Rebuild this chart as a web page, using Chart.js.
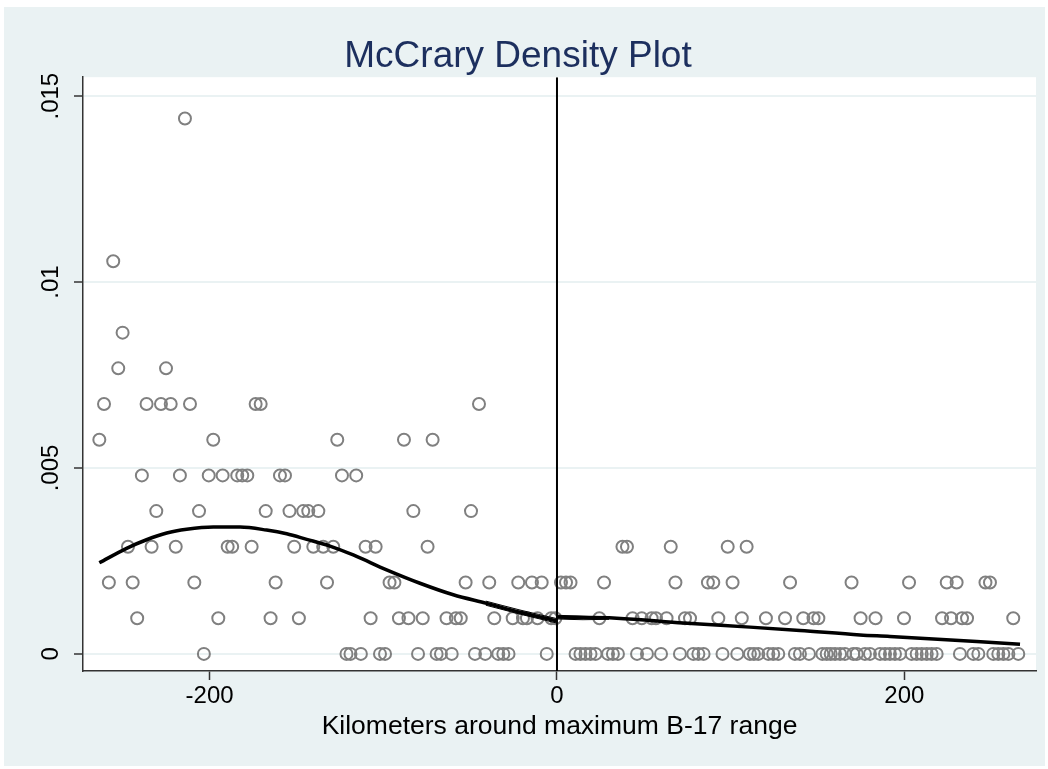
<!DOCTYPE html>
<html>
<head>
<meta charset="utf-8">
<script src="https://cdn.jsdelivr.net/npm/chart.js@4.4.1/dist/chart.umd.min.js"></script>
<style>
  html, body { margin: 0; padding: 0; background: #ffffff; }
  canvas { display: block; }
</style>
</head>
<body>
<canvas id="myChart" width="1048" height="769"></canvas>
<script>
// axis ticks
var xTicks = [-200, 0, 200];
var yTicks = [0, 0.005, 0.01, 0.015];
var yTickLabels = ['0', '.005', '.01', '.015'];

// bin midpoints (km), grouped by the density level they sit at
var binsD0 = [-203.3, -121.2, -118.9, -112.9, -101.9, -99.0, -80.0, -69.3, -66.8, -60.6, -47.2, -41.3, -33.8, -30.9, -27.9, -5.9,
  10.7, 13.5, 16.4, 19.3, 22.2, 29.4, 32.2, 35.1, 46.1, 51.8, 59.9, 70.8, 78.5, 81.4, 84.4, 95.3, 103.8, 111.1, 113.4, 115.9,
  121.7, 124.5, 127.4, 137.0, 139.9, 145.1, 152.8, 155.3, 157.6, 160.1, 163.0, 165.8, 170.6, 172.6, 177.3, 180.2, 186.0, 188.9,
  191.7, 194.6, 197.5, 204.2, 207.1, 210.0, 212.9, 215.7, 218.6, 232.0, 239.7, 242.6, 251.2, 254.1, 257.0, 259.9, 265.6];
var binsD1 = [-241.7, -195.0, -164.9, -148.6, -107.3, -91.0, -85.5, -77.3, -63.6, -58.2, -55.4, -36.1, -25.5, -19.6, -17.3, -11.2,
  -3.3, -0.9, 24.4, 43.5, 48.8, 54.5, 57.0, 63.1, 73.7, 76.6, 92.9, 106.4, 120.3, 131.3, 141.8, 147.7, 150.5, 174.8, 183.4,
  199.8, 221.7, 226.9, 233.2, 236.1, 262.7];
var binsD2 = [-258.0, -244.3, -208.8, -162.0, -132.4, -96.4, -93.6, -52.6, -39.0, -22.3, -14.4, -8.8, 2.3, 5.2, 7.8, 27.1,
  68.2, 86.9, 90.0, 101.1, 134.2, 169.6, 202.7, 224.4, 230.1, 246.7, 249.3];
var binsD3 = [-247.0, -233.4, -219.5, -189.6, -187.0, -175.8, -151.3, -140.3, -134.6, -128.8, -110.2, -104.4, -74.5,
  37.7, 40.3, 65.5, 98.3, 109.2];
var binsD4 = [-230.7, -206.1, -167.7, -154.0, -146.1, -143.2, -137.4, -82.7, -49.5];
var binsD5 = [-239.0, -217.1, -200.5, -192.5, -184.1, -181.2, -178.3, -159.5, -156.6, -123.8, -115.6];
var binsD6 = [-263.5, -197.9, -126.5, -88.1, -71.6];
var binsD7 = [-260.8, -236.3, -228.0, -222.4, -211.3, -173.5, -170.6, -44.9];
var binsD8 = [-252.6, -225.1];
var binsD9 = [-250.1];
var binsD11 = [-255.5];
var binsD15 = [-214.2];

// density fit, left and right of the cutoff
var fitLeftKm = [-263.5, -247.8, -236.3, -224.7, -213.2, -197.9, -182.5, -167.2, -155.6, -144.1, -130.7, -117.3, -98.1, -78.9, -59.7, -40.5, -21.3, -0.2];
var fitLeftDensity = [0.00245, 0.00284, 0.00307, 0.00325, 0.00335, 0.00341, 0.00341, 0.00333, 0.00323, 0.00308, 0.0029, 0.00266, 0.00226, 0.0019, 0.00159, 0.00136, 0.00112, 0.00089];
var fitRightKm = [0, 34.4, 72.7, 111.1, 139.9, 174.5, 191.7, 266.6];
var fitRightDensity = [0.00099, 0.00096, 0.00083, 0.00072, 0.00063, 0.00051, 0.00047, 0.00026];

// thin band around the fit close to the cutoff
var bandLeftKm = [-41, -21.3, -0.2];
var bandLeftUpper = [0.00142, 0.00118, 0.00095];
var bandLeftLower = [0.00131, 0.00107, 0.00083];
var bandRightKm = [0, 15, 30];
var bandRightUpper = [0.00104, 0.00101, 0.00099];
var bandRightLower = [0.00094, 0.00092, 0.00093];

var xMin = -272.9, xMax = 275.8;
var yMin = -0.00046, yMax = 0.01551;

var bg = '#eaf2f3';
var fontFam = '"Liberation Sans", Arial, Helvetica, sans-serif';

function levelPoints(kms, d) {
  return kms.map(function (k) { return { x: k, y: d }; });
}

var binPoints = [].concat(
  levelPoints(binsD0, 0),
  levelPoints(binsD1, 0.00096),
  levelPoints(binsD2, 0.00192),
  levelPoints(binsD3, 0.00288),
  levelPoints(binsD4, 0.00384),
  levelPoints(binsD5, 0.0048),
  levelPoints(binsD6, 0.00576),
  levelPoints(binsD7, 0.00672),
  levelPoints(binsD8, 0.00768),
  levelPoints(binsD9, 0.00864),
  levelPoints(binsD11, 0.01056),
  levelPoints(binsD15, 0.0144)
);

function pairUp(xs, ys) {
  return xs.map(function (v, i) { return { x: v, y: ys[i] }; });
}

function thinLine(xs, ys) {
  return {
    data: pairUp(xs, ys),
    showLine: true,
    borderColor: '#000000',
    borderWidth: 1,
    pointRadius: 0,
    cubicInterpolationMode: 'monotone',
    order: 1
  };
}

var backdrop = {
  id: 'backdrop',
  beforeDraw: function (chart) {
    var ctx = chart.ctx, a = chart.chartArea;
    ctx.save();
    ctx.fillStyle = '#ffffff';
    ctx.fillRect(0, 0, chart.width, chart.height);
    ctx.fillStyle = bg;
    ctx.fillRect(4, 7, 1041, 759);
    ctx.fillStyle = '#ffffff';
    ctx.fillRect(a.left, a.top, a.right - a.left, a.bottom - a.top);
    ctx.restore();
  }
};

var yLabels = {
  id: 'yLabels',
  afterDraw: function (chart) {
    var ctx = chart.ctx, sy = chart.scales.y;
    ctx.save();
    ctx.font = '24px ' + fontFam;
    ctx.fillStyle = '#000000';
    ctx.textAlign = 'center';
    ctx.textBaseline = 'middle';
    yTicks.forEach(function (v, i) {
      ctx.save();
      ctx.translate(51, sy.getPixelForValue(v));
      ctx.rotate(-Math.PI / 2);
      ctx.fillText(yTickLabels[i], 0, 0);
      ctx.restore();
    });
    ctx.restore();
  }
};

var ctx = document.getElementById('myChart').getContext('2d');
var myChart = new Chart(ctx, {
  type: 'scatter',
  data: {
    datasets: [
      {
        label: 'cutoff',
        data: [{ x: 0, y: yMin }, { x: 0, y: yMax }],
        showLine: true,
        borderColor: '#000000',
        borderWidth: 2,
        pointRadius: 0,
        order: 0
      },
      {
        label: 'fit left',
        data: pairUp(fitLeftKm, fitLeftDensity),
        showLine: true,
        borderColor: '#000000',
        borderWidth: 3.5,
        pointRadius: 0,
        cubicInterpolationMode: 'monotone',
        order: 1
      },
      {
        label: 'fit right',
        data: pairUp(fitRightKm, fitRightDensity),
        showLine: true,
        borderColor: '#000000',
        borderWidth: 3.5,
        pointRadius: 0,
        cubicInterpolationMode: 'monotone',
        order: 1
      },
      thinLine(bandLeftKm, bandLeftUpper),
      thinLine(bandLeftKm, bandLeftLower),
      thinLine(bandRightKm, bandRightUpper),
      thinLine(bandRightKm, bandRightLower),
      {
        label: 'bins',
        data: binPoints,
        pointStyle: 'circle',
        pointRadius: 6,
        borderWidth: 2,
        borderColor: '#808080',
        backgroundColor: 'rgba(0,0,0,0)',
        order: 2
      }
    ]
  },
  options: {
    responsive: false,
    animation: false,
    layout: { padding: { left: 0, right: 12, top: 0, bottom: 0 } },
    plugins: {
      legend: { display: false },
      tooltip: { enabled: false },
      title: {
        display: true,
        text: 'McCrary Density Plot',
        color: '#1c2f5e',
        font: { family: fontFam, size: 37, weight: 'normal', lineHeight: 1.1 },
        padding: { top: 36.5, bottom: 0 }
      }
    },
    scales: {
      x: {
        type: 'linear',
        min: xMin,
        max: xMax,
        afterBuildTicks: function (s) { s.ticks = xTicks.map(function (v) { return { value: v }; }); },
        afterFit: function (s) { s.height = 98; },
        grid: { drawOnChartArea: false, drawTicks: true, tickLength: 9, tickColor: '#333333', tickWidth: 1.5 },
        border: { display: true, color: '#333333', width: 1.5 },
        ticks: { color: '#000000', font: { family: fontFam, size: 24 }, padding: 2, maxRotation: 0 },
        title: {
          display: true,
          text: 'Kilometers around maximum B-17 range',
          color: '#000000',
          font: { family: fontFam, size: 26.5, lineHeight: 1.2 },
          padding: { top: 0, bottom: 26 }
        }
      },
      y: {
        type: 'linear',
        min: yMin,
        max: yMax,
        afterBuildTicks: function (s) { s.ticks = yTicks.map(function (v) { return { value: v }; }); },
        afterFit: function (s) { s.width = 83; },
        grid: { color: bg, lineWidth: 2, drawTicks: true, tickLength: 9, tickColor: '#333333', tickWidth: 1.5 },
        border: { display: true, color: '#333333', width: 1.5 },
        ticks: { display: false }
      }
    }
  },
  plugins: [backdrop, yLabels]
});
</script>
</body>
</html>
